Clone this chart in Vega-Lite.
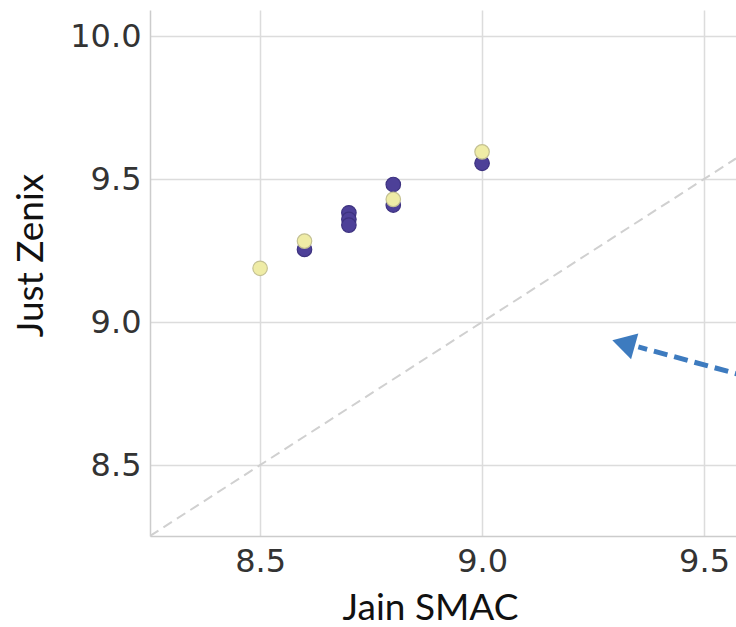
{
  "$schema": "https://vega.github.io/schema/vega-lite/v6.json",
  "autosize": "none",
  "width": 586,
  "height": 526,
  "padding": {"left": 150, "top": 10, "right": 0, "bottom": 91},
  "background": "white",
  "config": {
    "view": {"stroke": null},
    "axis": {
      "grid": true,
      "gridColor": "#dcdcdc",
      "gridWidth": 1.5,
      "domainColor": "#cccccc",
      "domainWidth": 1.5,
      "ticks": false,
      "labelFont": "DejaVu Sans",
      "labelFontSize": 32,
      "labelColor": "#333333",
      "titleFont": "Lato",
      "titleFontSize": 37,
      "titleFontWeight": "normal",
      "titleColor": "#111111"
    }
  },
  "datasets": {
    "pts": [
      {"jain": 8.6, "zenix": 9.254, "series": "A"},
      {"jain": 8.7, "zenix": 9.382, "series": "A"},
      {"jain": 8.7, "zenix": 9.359, "series": "A"},
      {"jain": 8.7, "zenix": 9.339, "series": "A"},
      {"jain": 8.8, "zenix": 9.481, "series": "A"},
      {"jain": 8.8, "zenix": 9.409, "series": "A"},
      {"jain": 9.0, "zenix": 9.555, "series": "A"},
      {"jain": 8.5, "zenix": 9.188, "series": "B"},
      {"jain": 8.6, "zenix": 9.283, "series": "B"},
      {"jain": 8.8, "zenix": 9.429, "series": "B"},
      {"jain": 9.0, "zenix": 9.595, "series": "B"}
    ],
    "diag": [
      {"x1": 8.252, "y1": 8.252, "x2": 9.572, "y2": 9.572}
    ],
    "arrowline": [
      {"x1": 9.6, "y1": 8.808, "x2": 9.352, "y2": 8.913}
    ],
    "arrowhead": [
      {"x": 9.327, "y": 8.922}
    ]
  },
  "layer": [
    {
      "data": {"name": "diag"},
      "mark": {"type": "rule", "color": "#d0d0d0", "strokeWidth": 2, "strokeDash": [10, 6], "clip": true},
      "encoding": {
        "x": {"field": "x1", "type": "quantitative", "scale": {"domain": [8.252, 9.572], "nice": false, "zero": false},
              "axis": {"values": [8.5, 9.0, 9.5], "format": ".1f", "title": "Jain SMAC", "labelPadding": 10,
                       "titleX": 280, "titleY": 83, "titleBaseline": "alphabetic", "titleAlign": "center"}},
        "y": {"field": "y1", "type": "quantitative", "scale": {"domain": [8.252, 10.091], "nice": false, "zero": false},
              "axis": {"values": [8.5, 9.0, 9.5, 10.0], "format": ".1f", "title": "Just Zenix", "labelPadding": 9,
                       "titleX": -108, "titleY": 245, "titleBaseline": "alphabetic", "titleAlign": "center", "titleAngle": -90}},
        "x2": {"field": "x2"},
        "y2": {"field": "y2"}
      }
    },
    {
      "data": {"name": "pts"},
      "mark": {"type": "point", "filled": true, "size": 210, "opacity": 1, "strokeWidth": 1.2, "clip": true},
      "encoding": {
        "x": {"field": "jain", "type": "quantitative"},
        "y": {"field": "zenix", "type": "quantitative"},
        "fill": {"field": "series", "type": "nominal", "scale": {"domain": ["A", "B"], "range": ["#4d4098", "#efeca6"]}, "legend": null},
        "stroke": {"field": "series", "type": "nominal", "scale": {"domain": ["A", "B"], "range": ["#3d3280", "#c4c193"]}, "legend": null},
        "order": {"field": "series"}
      }
    },
    {
      "data": {"name": "arrowline"},
      "mark": {"type": "rule", "color": "#3d7bbf", "strokeWidth": 5, "strokeDash": [14, 7], "clip": true},
      "encoding": {
        "x": {"field": "x1", "type": "quantitative"},
        "y": {"field": "y1", "type": "quantitative"},
        "x2": {"field": "x2"},
        "y2": {"field": "y2"}
      }
    },
    {
      "data": {"name": "arrowhead"},
      "mark": {"type": "point", "shape": "triangle", "filled": true, "size": 720, "angle": 285.6, "color": "#3d7bbf", "opacity": 1},
      "encoding": {
        "x": {"field": "x", "type": "quantitative"},
        "y": {"field": "y", "type": "quantitative"}
      }
    }
  ]
}
